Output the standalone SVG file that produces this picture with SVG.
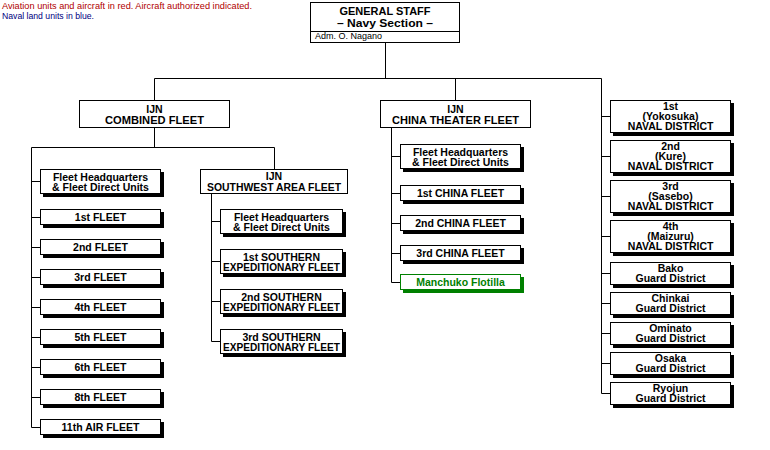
<svg xmlns="http://www.w3.org/2000/svg" width="770" height="450" viewBox="0 0 770 450">
<style>
.bx{fill:#fff;stroke:#000;stroke-width:1}
.sh{fill:#000}
.t{font-family:"Liberation Sans",Arial,sans-serif;font-weight:bold;font-size:10.5px;text-anchor:middle;fill:#000}
.n{font-family:"Liberation Sans",Arial,sans-serif;font-size:9px;fill:#000}
.c line{stroke:#000;stroke-width:1}
.g .bx{stroke:#008000}
.g .sh{fill:#008000}
.g .t{fill:#008000}
</style>
<rect width="770" height="450" fill="#fff"/>
<text class="n" x="2" y="9" style="fill:#b00000" textLength="250" lengthAdjust="spacingAndGlyphs">Aviation units and aircraft in red. Aircraft authorized indicated.</text>
<text class="n" x="2" y="19" style="fill:#000080" textLength="92" lengthAdjust="spacingAndGlyphs">Naval land units in blue.</text>

<g class="c" id="connectors">
<line x1="385.5" y1="42" x2="385.5" y2="78.5"/>
<line x1="154.5" y1="78.5" x2="601.5" y2="78.5"/>
<line x1="154.5" y1="78.5" x2="154.5" y2="100"/>
<line x1="455.5" y1="78.5" x2="455.5" y2="100"/>
<line x1="601.5" y1="78.5" x2="601.5" y2="393.5"/>
<line x1="154.5" y1="127" x2="154.5" y2="147.5"/>
<line x1="31.5" y1="147.5" x2="274.5" y2="147.5"/>
<line x1="274.5" y1="147.5" x2="274.5" y2="169"/>
<line x1="31.5" y1="147.5" x2="31.5" y2="427.5"/>
<line x1="31.5" y1="181.5" x2="40" y2="181.5"/>
<line x1="31.5" y1="217.5" x2="40" y2="217.5"/>
<line x1="31.5" y1="247.5" x2="40" y2="247.5"/>
<line x1="31.5" y1="277.5" x2="40" y2="277.5"/>
<line x1="31.5" y1="307.5" x2="40" y2="307.5"/>
<line x1="31.5" y1="337.5" x2="40" y2="337.5"/>
<line x1="31.5" y1="367.5" x2="40" y2="367.5"/>
<line x1="31.5" y1="397.5" x2="40" y2="397.5"/>
<line x1="31.5" y1="427.5" x2="40" y2="427.5"/>
<line x1="211.5" y1="193" x2="211.5" y2="341.5"/>
<line x1="211.5" y1="221.5" x2="220" y2="221.5"/>
<line x1="211.5" y1="261.5" x2="220" y2="261.5"/>
<line x1="211.5" y1="301.5" x2="220" y2="301.5"/>
<line x1="211.5" y1="341.5" x2="220" y2="341.5"/>
<line x1="391.5" y1="127" x2="391.5" y2="282.5"/>
<line x1="391.5" y1="156.5" x2="400" y2="156.5"/>
<line x1="391.5" y1="193.5" x2="400" y2="193.5"/>
<line x1="391.5" y1="223.5" x2="400" y2="223.5"/>
<line x1="391.5" y1="253.5" x2="400" y2="253.5"/>
<line x1="391.5" y1="282.5" x2="400" y2="282.5"/>
<line x1="601.5" y1="116.5" x2="610" y2="116.5"/>
<line x1="601.5" y1="156.5" x2="610" y2="156.5"/>
<line x1="601.5" y1="196.5" x2="610" y2="196.5"/>
<line x1="601.5" y1="236.5" x2="610" y2="236.5"/>
<line x1="601.5" y1="273.5" x2="610" y2="273.5"/>
<line x1="601.5" y1="303.5" x2="610" y2="303.5"/>
<line x1="601.5" y1="333.5" x2="610" y2="333.5"/>
<line x1="601.5" y1="363.5" x2="610" y2="363.5"/>
<line x1="601.5" y1="393.5" x2="610" y2="393.5"/>
</g>

<g id="general-staff">
<rect class="bx" x="310.5" y="2.5" width="149" height="40"/>
<line x1="310.5" y1="31.5" x2="459.5" y2="31.5" stroke="#000"/>
<text class="t" x="385" y="15" style="font-size:11.5px" textLength="91" lengthAdjust="spacingAndGlyphs">GENERAL STAFF</text>
<text class="t" x="385" y="26.5" style="font-size:11.5px" textLength="96" lengthAdjust="spacingAndGlyphs">– Navy Section –</text>
<text class="n" x="315" y="39">Adm.  O. Nagano</text>
</g>

<g id="combined-fleet">
<rect class="bx" x="79.5" y="100.5" width="150" height="27"/>
<text class="t" x="154.5" y="113">IJN</text>
<text class="t" x="154.5" y="124" textLength="99" lengthAdjust="spacingAndGlyphs">COMBINED FLEET</text>
</g>
<g id="cf-hq"><rect class="sh" x="43" y="172" width="121" height="25"/><rect class="bx" x="40.5" y="169.5" width="120" height="24"/><text class="t" x="100.5" y="180.5">Fleet Headquarters</text><text class="t" x="100.5" y="190.5">&amp; Fleet Direct Units</text></g>
<g id="fleet-1"><rect class="sh" x="43" y="212" width="121" height="16"/><rect class="bx" x="40.5" y="209.5" width="120" height="15"/><text class="t" x="100.5" y="221">1st FLEET</text></g>
<g id="fleet-2"><rect class="sh" x="43" y="242" width="121" height="16"/><rect class="bx" x="40.5" y="239.5" width="120" height="15"/><text class="t" x="100.5" y="251">2nd FLEET</text></g>
<g id="fleet-3"><rect class="sh" x="43" y="272" width="121" height="16"/><rect class="bx" x="40.5" y="269.5" width="120" height="15"/><text class="t" x="100.5" y="281">3rd FLEET</text></g>
<g id="fleet-4"><rect class="sh" x="43" y="302" width="121" height="16"/><rect class="bx" x="40.5" y="299.5" width="120" height="15"/><text class="t" x="100.5" y="311">4th FLEET</text></g>
<g id="fleet-5"><rect class="sh" x="43" y="332" width="121" height="16"/><rect class="bx" x="40.5" y="329.5" width="120" height="15"/><text class="t" x="100.5" y="341">5th FLEET</text></g>
<g id="fleet-6"><rect class="sh" x="43" y="362" width="121" height="16"/><rect class="bx" x="40.5" y="359.5" width="120" height="15"/><text class="t" x="100.5" y="371">6th FLEET</text></g>
<g id="fleet-8"><rect class="sh" x="43" y="392" width="121" height="16"/><rect class="bx" x="40.5" y="389.5" width="120" height="15"/><text class="t" x="100.5" y="401">8th FLEET</text></g>
<g id="air-fleet-11"><rect class="sh" x="43" y="422" width="121" height="16"/><rect class="bx" x="40.5" y="419.5" width="120" height="15"/><text class="t" x="100.5" y="431">11th AIR FLEET</text></g>

<g id="southwest-area-fleet">
<rect class="bx" x="200.5" y="169.5" width="147" height="24"/>
<text class="t" x="274" y="180">IJN</text>
<text class="t" x="274" y="190.5" textLength="134" lengthAdjust="spacingAndGlyphs">SOUTHWEST AREA FLEET</text>
</g>
<g id="sw-hq"><rect class="sh" x="223" y="212" width="123" height="25"/><rect class="bx" x="220.5" y="209.5" width="122" height="24"/><text class="t" x="281.5" y="220.5">Fleet Headquarters</text><text class="t" x="281.5" y="230.5">&amp; Fleet Direct Units</text></g>
<g id="sef-1"><rect class="sh" x="223" y="252" width="123" height="25"/><rect class="bx" x="220.5" y="249.5" width="122" height="24"/><text class="t" x="281.5" y="260.5">1st SOUTHERN</text><text class="t" x="281.5" y="270.5" textLength="117" lengthAdjust="spacingAndGlyphs">EXPEDITIONARY FLEET</text></g>
<g id="sef-2"><rect class="sh" x="223" y="292" width="123" height="25"/><rect class="bx" x="220.5" y="289.5" width="122" height="24"/><text class="t" x="281.5" y="300.5">2nd SOUTHERN</text><text class="t" x="281.5" y="310.5" textLength="117" lengthAdjust="spacingAndGlyphs">EXPEDITIONARY FLEET</text></g>
<g id="sef-3"><rect class="sh" x="223" y="332" width="123" height="25"/><rect class="bx" x="220.5" y="329.5" width="122" height="24"/><text class="t" x="281.5" y="340.5">3rd SOUTHERN</text><text class="t" x="281.5" y="350.5" textLength="117" lengthAdjust="spacingAndGlyphs">EXPEDITIONARY FLEET</text></g>

<g id="china-theater-fleet">
<rect class="bx" x="380.5" y="100.5" width="150" height="27"/>
<text class="t" x="455.5" y="113">IJN</text>
<text class="t" x="455.5" y="124" textLength="127" lengthAdjust="spacingAndGlyphs">CHINA THEATER FLEET</text>
</g>
<g id="ct-hq"><rect class="sh" x="403" y="147" width="121" height="25"/><rect class="bx" x="400.5" y="144.5" width="120" height="24"/><text class="t" x="460.5" y="155.5">Fleet Headquarters</text><text class="t" x="460.5" y="165.5">&amp; Fleet Direct Units</text></g>
<g id="china-1"><rect class="sh" x="403" y="188" width="121" height="16"/><rect class="bx" x="400.5" y="185.5" width="120" height="15"/><text class="t" x="460.5" y="197">1st CHINA FLEET</text></g>
<g id="china-2"><rect class="sh" x="403" y="218" width="121" height="16"/><rect class="bx" x="400.5" y="215.5" width="120" height="15"/><text class="t" x="460.5" y="227">2nd CHINA FLEET</text></g>
<g id="china-3"><rect class="sh" x="403" y="248" width="121" height="16"/><rect class="bx" x="400.5" y="245.5" width="120" height="15"/><text class="t" x="460.5" y="257">3rd CHINA FLEET</text></g>
<g id="manchuko" class="g"><rect class="sh" x="403" y="277" width="121" height="16"/><rect class="bx" x="400.5" y="274.5" width="120" height="15"/><text class="t" x="460.5" y="286">Manchuko Flotilla</text></g>

<g id="nd-1"><rect class="sh" x="613" y="103" width="121" height="33"/><rect class="bx" x="610.5" y="100.5" width="120" height="32"/><text class="t" x="670.5" y="109.5">1st</text><text class="t" x="670.5" y="119.5">(Yokosuka)</text><text class="t" x="670.5" y="129.5">NAVAL DISTRICT</text></g>
<g id="nd-2"><rect class="sh" x="613" y="143" width="121" height="33"/><rect class="bx" x="610.5" y="140.5" width="120" height="32"/><text class="t" x="670.5" y="149.5">2nd</text><text class="t" x="670.5" y="159.5">(Kure)</text><text class="t" x="670.5" y="169.5">NAVAL DISTRICT</text></g>
<g id="nd-3"><rect class="sh" x="613" y="183" width="121" height="33"/><rect class="bx" x="610.5" y="180.5" width="120" height="32"/><text class="t" x="670.5" y="189.5">3rd</text><text class="t" x="670.5" y="199.5">(Sasebo)</text><text class="t" x="670.5" y="209.5">NAVAL DISTRICT</text></g>
<g id="nd-4"><rect class="sh" x="613" y="223" width="121" height="33"/><rect class="bx" x="610.5" y="220.5" width="120" height="32"/><text class="t" x="670.5" y="229.5">4th</text><text class="t" x="670.5" y="239.5">(Maizuru)</text><text class="t" x="670.5" y="249.5">NAVAL DISTRICT</text></g>
<g id="gd-bako"><rect class="sh" x="613" y="265" width="121" height="23"/><rect class="bx" x="610.5" y="262.5" width="120" height="22"/><text class="t" x="670.5" y="271.5">Bako</text><text class="t" x="670.5" y="281.5">Guard District</text></g>
<g id="gd-chinkai"><rect class="sh" x="613" y="295" width="121" height="23"/><rect class="bx" x="610.5" y="292.5" width="120" height="22"/><text class="t" x="670.5" y="301.5">Chinkai</text><text class="t" x="670.5" y="311.5">Guard District</text></g>
<g id="gd-ominato"><rect class="sh" x="613" y="325" width="121" height="23"/><rect class="bx" x="610.5" y="322.5" width="120" height="22"/><text class="t" x="670.5" y="331.5">Ominato</text><text class="t" x="670.5" y="341.5">Guard District</text></g>
<g id="gd-osaka"><rect class="sh" x="613" y="355" width="121" height="23"/><rect class="bx" x="610.5" y="352.5" width="120" height="22"/><text class="t" x="670.5" y="361.5">Osaka</text><text class="t" x="670.5" y="371.5">Guard District</text></g>
<g id="gd-ryojun"><rect class="sh" x="613" y="385" width="121" height="23"/><rect class="bx" x="610.5" y="382.5" width="120" height="22"/><text class="t" x="670.5" y="391.5">Ryojun</text><text class="t" x="670.5" y="401.5">Guard District</text></g>
</svg>
